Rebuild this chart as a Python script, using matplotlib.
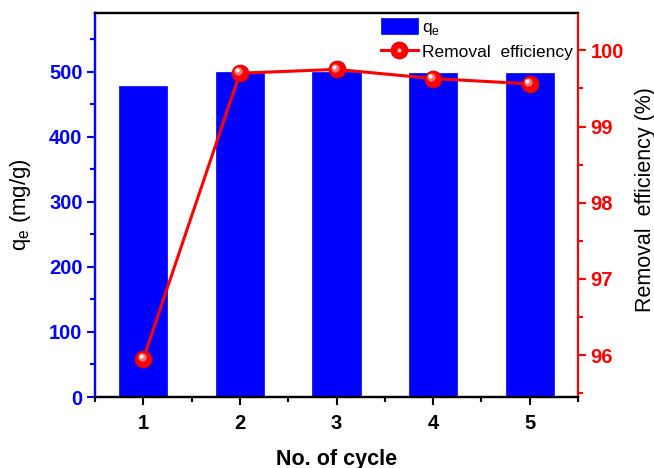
import matplotlib
matplotlib.use("Agg")
import matplotlib.pyplot as plt
import matplotlib.transforms as mtransforms
from matplotlib.legend_handler import HandlerTuple
from matplotlib.ticker import MultipleLocator

cycles = [1, 2, 3, 4, 5]
qe = [478, 499, 499, 498, 498]
removal = [95.95, 99.70, 99.75, 99.63, 99.56]

plt.rcParams['font.family'] = ['Liberation Sans', 'DejaVu Sans']

fig = plt.figure(figsize=(6.54, 4.68), dpi=100)
ax = fig.add_axes([0.1453, 0.1517, 0.7385, 0.8205])
ax2 = ax.twinx()

bars = ax.bar(cycles, qe, width=0.5, color='#0000FF', edgecolor='#0000FF', linewidth=0.5, zorder=2)
ax.set_xlim(0.5, 5.5)
ax.set_ylim(0, 590)
ax2.set_ylim(95.45, 100.49)

# line with glossy markers
line, = ax2.plot(cycles, removal, color='#FF0000', lw=2.2, marker='o', ms=12,
                 markerfacecolor='#FF0000', markeredgecolor='#E00000', markeredgewidth=0.8, zorder=3)
off1 = mtransforms.offset_copy(ax2.transData, fig=fig, x=-1.3, y=1.3, units='points')
off2 = mtransforms.offset_copy(ax2.transData, fig=fig, x=-2.0, y=2.0, units='points')
ax2.plot(cycles, removal, ls='none', marker='o', ms=6, markerfacecolor='#FF8080',
         markeredgecolor='none', alpha=0.9, transform=off1, zorder=4)
ax2.plot(cycles, removal, ls='none', marker='o', ms=3, markerfacecolor='white',
         markeredgecolor='none', transform=off2, zorder=5)

# ticks
ax.xaxis.set_major_locator(MultipleLocator(1))
ax.xaxis.set_minor_locator(MultipleLocator(0.5))
ax.yaxis.set_major_locator(MultipleLocator(100))
ax.yaxis.set_minor_locator(MultipleLocator(50))
ax2.yaxis.set_major_locator(MultipleLocator(1))
ax2.yaxis.set_minor_locator(MultipleLocator(0.5))

ax.tick_params(axis='x', which='major', direction='out', length=6, width=1.5, colors='black',
               labelsize=14.5, pad=6)
ax.tick_params(axis='x', which='minor', direction='out', length=3.5, width=1.5, colors='black')
ax.tick_params(axis='y', which='major', direction='out', length=6, width=1.5, colors='#0000FF',
               labelsize=14.5, pad=3)
ax.tick_params(axis='y', which='minor', direction='out', length=3.5, width=1.5, colors='#0000FF')
ax2.tick_params(axis='y', which='major', direction='out', length=6, width=1.5, colors='#FF0000',
                labelsize=14.5, pad=3)
ax2.tick_params(axis='y', which='minor', direction='out', length=3.5, width=1.5, colors='#FF0000')
for lab in ax.get_xticklabels() + ax.get_yticklabels() + ax2.get_yticklabels():
    lab.set_fontweight('bold')

for a in (ax, ax2):
    a.spines['top'].set_color('black')
    a.spines['bottom'].set_color('black')
    for s in a.spines.values():
        s.set_linewidth(1.6)
ax.spines['left'].set_color('#0000FF')
ax2.spines['left'].set_color('#0000FF')
ax2.spines['right'].set_color('#FF0000')
ax.spines['right'].set_visible(False)

ax.set_xlabel('No. of cycle', fontsize=15.5, fontweight='bold', labelpad=12)
ax.set_ylabel('q$_\\mathregular{e}$ (mg/g)', fontsize=16)
ax.yaxis.set_label_coords(-0.129, 0.5)
ax2.set_ylabel('Removal  efficiency (%)', fontsize=15.5)
ax2.yaxis.set_label_coords(1.118, 0.515)

# legend
hl_line, = ax2.plot([], [], color='#FF0000', lw=2.2, marker='o', ms=12,
                    markerfacecolor='#FF0000', markeredgecolor='#E00000', markeredgewidth=0.8)
hl_dot, = ax2.plot([], [], ls='none', marker='o', ms=3, markerfacecolor='#FFC0C0', markeredgecolor='none')
leg = ax2.legend([bars, (hl_line, hl_dot)], ['q$_\\mathregular{e}$', 'Removal  efficiency'],
                 handler_map={tuple: HandlerTuple(ndivide=1, pad=0)},
                 loc='upper right', bbox_to_anchor=(1.0, 1.0), frameon=False, fontsize=12.5,
                 handlelength=2.1, handleheight=1.0, handletextpad=0.25, labelspacing=0.35,
                 borderaxespad=0.0, borderpad=0.3)

fig.savefig('out.png', dpi=100)
